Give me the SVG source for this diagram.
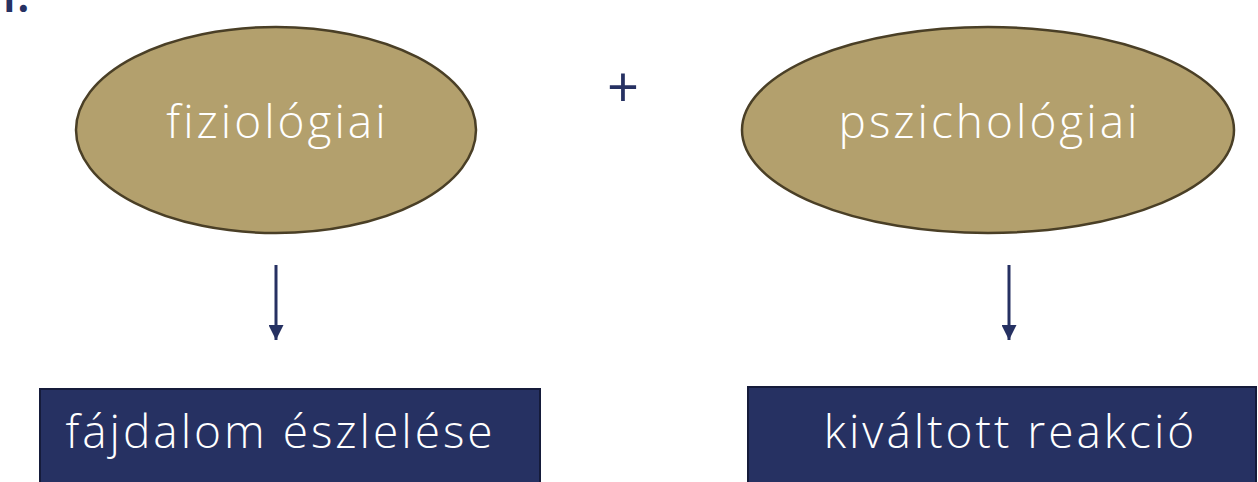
<svg xmlns="http://www.w3.org/2000/svg" width="1258" height="482" viewBox="0 0 1258 482">
<defs>
<style>
.oval{fill:#B3A06D;stroke:#4A3F26;stroke-width:2.5}
.box{fill:#263162;stroke:#151B3A;stroke-width:2}
.lbl{font-family:"Open Sans","Liberation Sans",sans-serif;font-weight:300;font-size:46px;letter-spacing:3px;fill:#FFFFFF;text-anchor:middle}
.dark{font-family:"Open Sans","Liberation Sans",sans-serif;fill:#263162;text-anchor:middle}
.conn{stroke:#263162;stroke-width:3;fill:none}
</style>
<marker id="ah" viewBox="0 0 10 10" refX="10" refY="5" markerWidth="5" markerHeight="5" orient="auto" markerUnits="strokeWidth">
<path d="M0,0 L10,5 L0,10 Z" fill="#263162"/>
</marker>
</defs>
<rect width="1258" height="482" fill="#FFFFFF"/>
<text x="16" y="12" class="dark" font-size="48" font-weight="600">I.</text>
<text x="623" y="107" class="dark" font-size="56" font-weight="400">+</text>
<g id="node-fiziologiai">
<ellipse class="oval" cx="276" cy="130" rx="200" ry="103"/>
<text class="lbl" x="277.5" y="138">fiziológiai</text>
</g>
<g id="node-pszichologiai">
<ellipse class="oval" cx="988" cy="130" rx="246" ry="103"/>
<text class="lbl" x="989.5" y="138">pszichológiai</text>
</g>
<g id="node-fajdalom">
<rect class="box" x="40" y="389" width="500" height="100"/>
<text class="lbl" x="280.5" y="448">fájdalom észlelése</text>
</g>
<g id="node-kivaltott">
<rect class="box" x="748" y="387" width="508" height="100"/>
<text class="lbl" x="1010.5" y="448">kiváltott reakció</text>
</g>
<g id="connectors">
<line class="conn" x1="276" y1="265" x2="276" y2="340" marker-end="url(#ah)"/>
<line class="conn" x1="1009" y1="265" x2="1009" y2="340" marker-end="url(#ah)"/>
</g>
</svg>
